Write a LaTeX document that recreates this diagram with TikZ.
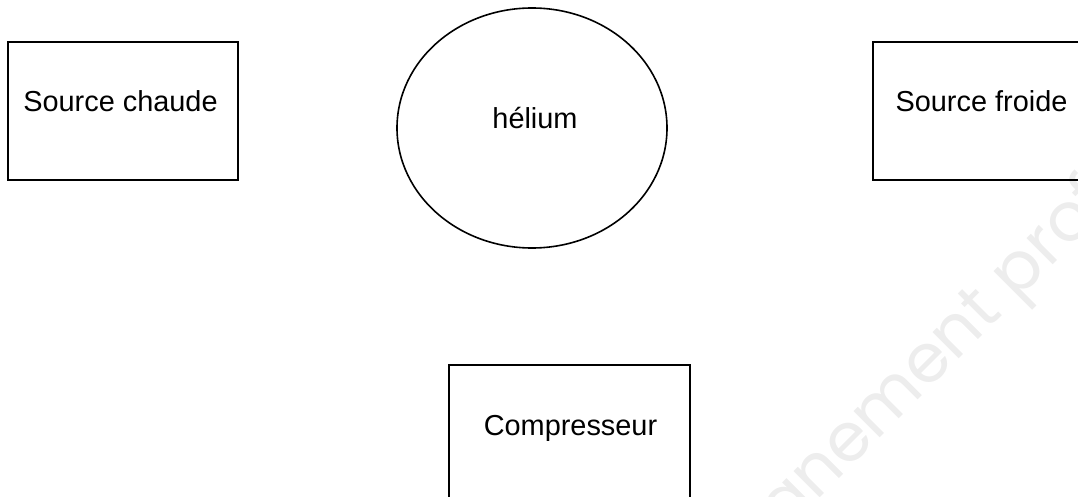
\documentclass[tikz,border=0pt]{standalone}
\usepackage{fontspec}
\setmainfont{Liberation Sans}
\newfontfamily\wmfont{Poppins}
\usetikzlibrary{shapes.geometric}
\tikzset{
  boxshape/.style={draw=black, line width=1.6bp, rectangle, inner sep=0pt},
  ellshape/.style={draw=black, line width=1.6bp, ellipse, inner sep=0pt, minimum width=270bp, minimum height=240bp},
  lbl/.style={anchor=base, inner sep=0pt, font=\fontsize{29}{34}\selectfont},
  wmark/.style={anchor=base west, inner sep=0pt, rotate=45, text=black!7, font=\wmfont\fontsize{68}{74}\selectfont}
}
\begin{document}
\begin{tikzpicture}[x=1bp,y=-1bp]
\useasboundingbox (0,0) rectangle (1078,497);
\clip (0,0) rectangle (1078,497);
% watermark (partly outside the picture)
\node[wmark] (wm) at (784,534) {gnement prof};
% boxes
\node[boxshape, minimum width=230bp, minimum height=138bp] (chaude) at (123,111) {};
\node[lbl] (chaudetxt) at (120.5,112) {Source chaude};
\node[boxshape, minimum width=217bp, minimum height=138bp] (froide) at (981.5,111) {};
\node[lbl] (froidetxt) at (981.5,112) {Source froide};
\node[ellshape] (helium) at (532,128) {};
\node[lbl] (heliumtxt) at (535,129) {hélium};
\node[boxshape, minimum width=241bp, minimum height=138bp] (comp) at (569.5,434) {};
\node[lbl] (comptxt) at (570.5,435) {Compresseur};
\end{tikzpicture}
\end{document}
